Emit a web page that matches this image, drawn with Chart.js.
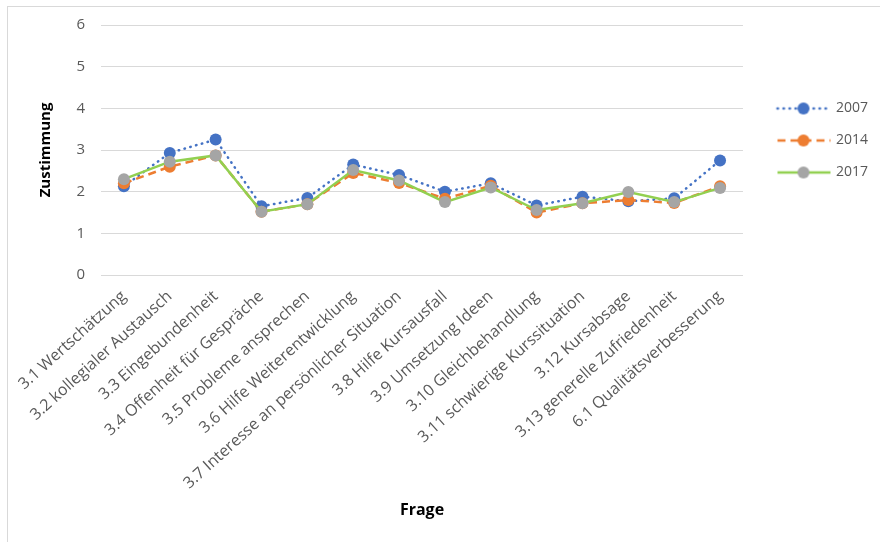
<!DOCTYPE html>
<html>
<head>
<meta charset="utf-8">
<script src="https://cdn.jsdelivr.net/npm/chart.js@4"></script>
<style>
  body { margin: 0; background: #fff; }
  #frame { position: absolute; left: 7px; top: 6px; right: 0; bottom: 0; border-left: 1px solid #d9d9d9; border-top: 1px solid #d9d9d9; }
  #chart { position: absolute; left: 0; top: 0; }
</style>
</head>
<body>
<div id="frame"></div>
<canvas id="chart" width="880" height="542"></canvas>
<script>
// Fragen (x axis)
const questions = [
    '3.1 Wertschätzung',
    '3.2 kollegialer Austausch',
    '3.3 Eingebundenheit',
    '3.4 Offenheit für Gespräche',
    '3.5 Probleme ansprechen',
    '3.6 Hilfe Weiterentwicklung',
    '3.7 Interesse an persönlicher Situation',
    '3.8 Hilfe Kursausfall',
    '3.9 Umsetzung Ideen',
    '3.10 Gleichbehandlung',
    '3.11 schwierige Kurssituation',
    '3.12 Kursabsage',
    '3.13 generelle Zufriedenheit',
    '6.1 Qualitätsverbesserung'
];

// Zustimmung per year
const values2007 = [2.13, 2.93, 3.25, 1.65, 1.85, 2.65, 2.40, 2.00, 2.20, 1.67, 1.88, 1.77, 1.84, 2.75];
const values2014 = [2.20, 2.60, 2.87, 1.52, 1.70, 2.45, 2.21, 1.83, 2.14, 1.50, 1.72, 1.80, 1.73, 2.13];
const values2017 = [2.30, 2.72, 2.87, 1.52, 1.70, 2.52, 2.27, 1.75, 2.10, 1.56, 1.72, 1.99, 1.75, 2.09];

const yTicks = [0, 1, 2, 3, 4, 5, 6];

const FONT = "'Open Sans', sans-serif";
const GREY_TEXT = '#595959';
const GRID = '#d9d9d9';

// little line + dot picture used as legend symbol
function legendSymbol(lineColor, dotColor, dash, cap) {
    const c = document.createElement('canvas');
    c.width = 56;
    c.height = 14;
    const g = c.getContext('2d');
    g.strokeStyle = lineColor;
    g.lineWidth = 2.5;
    g.lineCap = cap;
    g.setLineDash(dash);
    g.beginPath();
    g.moveTo(2, 7);
    g.lineTo(55, 7);
    g.stroke();
    g.setLineDash([]);
    g.fillStyle = dotColor;
    g.beginPath();
    g.arc(28, 7, 6, 0, Math.PI * 2);
    g.fill();
    return c;
}

const series = [
    { label: '2007', data: values2007, line: '#4472c4', dot: '#4472c4', dash: [0.5, 5.5], cap: 'round', order: 3 },
    { label: '2014', data: values2014, line: '#ed7d31', dot: '#ed7d31', dash: [8, 5], cap: 'butt', order: 2 },
    { label: '2017', data: values2017, line: '#92d050', dot: '#a5a5a5', dash: [], cap: 'butt', order: 1 }
];

// nudge the legend to where Excel put it
const legendShift = {
    id: 'legendShift',
    afterLayout(chart) {
        const l = chart.legend;
        l.left += 17; l.right += 17;
        l.top -= 138; l.bottom -= 138;
    }
};

const ctx = document.getElementById('chart').getContext('2d');
const chart = new Chart(ctx, {
    type: 'line',
    data: {
        labels: questions,
        datasets: series.map(s => ({
            label: s.label,
            data: s.data,
            borderColor: s.line,
            backgroundColor: s.dot,
            pointBackgroundColor: s.dot,
            pointBorderColor: s.dot,
            pointRadius: 6,
            pointBorderWidth: 0,
            borderWidth: 2.5,
            borderDash: s.dash,
            borderCapStyle: s.cap,
            tension: 0,
            fill: false,
            order: s.order
        }))
    },
    options: {
        responsive: false,
        devicePixelRatio: 1,
        animation: false,
        layout: { padding: { left: 8, right: 19, top: 25, bottom: 10 } },
        plugins: {
            tooltip: { enabled: false },
            legend: {
                position: 'right',
                labels: {
                    usePointStyle: true,
                    pointStyleWidth: 51,
                    boxHeight: 14,
                    padding: 18,
                    color: GREY_TEXT,
                    font: { family: FONT, size: 14 },
                    generateLabels: (ch) => series.map((s, i) => ({
                        text: s.label,
                        pointStyle: legendSymbol(s.line, s.dot, s.dash, s.cap),
                        fillStyle: s.dot,
                        strokeStyle: s.line,
                        lineWidth: 0,
                        fontColor: GREY_TEXT,
                        hidden: false,
                        datasetIndex: i
                    }))
                }
            }
        },
        scales: {
            x: {
                offset: true,
                grid: { display: false, drawTicks: false },
                border: { color: GRID },
                ticks: {
                    autoSkip: false,
                    minRotation: 42,
                    maxRotation: 42,
                    padding: 12,
                    color: GREY_TEXT,
                    font: { family: FONT, size: 16 }
                },
                title: {
                    display: true,
                    text: 'Frage',
                    color: '#000',
                    font: { family: FONT, size: 16, weight: 'bold' },
                    padding: { top: 0, bottom: 12 }
                },
                afterFit: (s) => { s.height = 257; }
            },
            y: {
                min: 0,
                max: 6,
                afterBuildTicks: (s) => { s.ticks = yTicks.map(v => ({ value: v })); },
                grid: { color: GRID, drawTicks: false },
                border: { display: false },
                ticks: {
                    padding: 16,
                    color: GREY_TEXT,
                    font: { family: FONT, size: 15 }
                },
                title: {
                    display: true,
                    text: 'Zustimmung',
                    color: '#000',
                    font: { family: FONT, size: 15, weight: 'bold' },
                    padding: { top: 29, bottom: 0 }
                },
                afterFit: (s) => { s.width = 93; }
            }
        }
    },
    plugins: [legendShift]
});
</script>
</body>
</html>
